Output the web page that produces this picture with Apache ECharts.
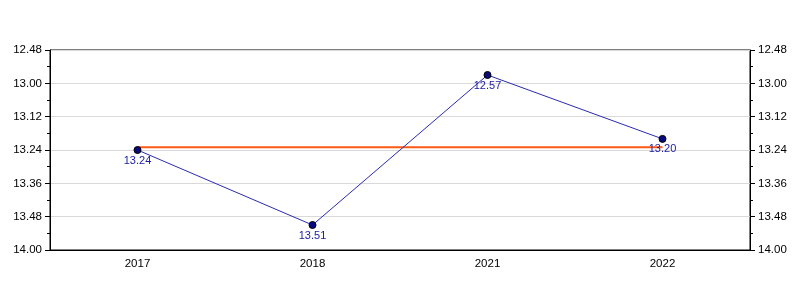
<!DOCTYPE html>
<html><head><meta charset="utf-8">
<script src="https://cdn.jsdelivr.net/npm/echarts@6/dist/echarts.min.js"></script>
<style>html,body{margin:0;padding:0;background:#fff}#c{width:800px;height:300px}</style>
</head><body><div id="c"></div>
<script>
// categories and values (times in m.ss shown; stored as seconds)
const categories = ['2017', '2018', '2021', '2022'];
const timeLabels = ['13.24', '13.51', '12.57', '13.20'];
const averageLabel = '13.23';
const yMinLabel = '12.48', yMaxLabel = '14.00', yStepSeconds = 12;

function toSec(s){ const [m, ss] = s.split('.'); return (+m) * 60 + (+ss); }
function fmt(v){ const m = Math.floor(v / 60), s = Math.round(v - m * 60); return m + '.' + String(s).padStart(2, '0'); }

const values = timeLabels.map(toSec);
const avg = categories.map(() => toSec(averageLabel));

const font = 'Liberation Sans, Arial, sans-serif';
function yAxis(pos){
  return {
    type: 'value', position: pos, inverse: true,
    min: toSec(yMinLabel), max: toSec(yMaxLabel), interval: yStepSeconds,
    axisLine: {show: true, lineStyle: {color: '#000'}},
    axisTick: {show: true, length: 5, lineStyle: {color: '#000'}},
    minorTick: {show: true, splitNumber: 2, length: 3, lineStyle: {color: '#000'}},
    splitLine: {show: pos === 'left', lineStyle: {color: '#d9d9d9'}},
    axisLabel: {formatter: fmt, color: '#000', fontSize: 11.5, fontFamily: font, margin: 8}
  };
}
const chart = echarts.init(document.getElementById('c'));
chart.setOption({
  animation: false,
  grid: {left: 50, right: 50, top: 50, bottom: 50, show: true, borderColor: '#000', borderWidth: 1},
  xAxis: {
    type: 'category', data: categories,
    axisLine: {lineStyle: {color: '#000'}},
    axisTick: {alignWithLabel: true, length: 5, lineStyle: {color: '#000'}},
    axisLabel: {color: '#000', fontSize: 11.5, fontFamily: font, margin: 8}
  },
  yAxis: [yAxis('left'), yAxis('right')],
  series: [
    {
      type: 'line', data: avg, symbol: 'none', z: 1,
      lineStyle: {color: '#ff5a14', width: 2}
    },
    {
      type: 'line', data: values, z: 2,
      symbol: 'circle', symbolSize: 7,
      itemStyle: {color: '#0a0a80', borderColor: '#000', borderWidth: 1},
      lineStyle: {color: '#2a2ab0', width: 1},
      label: {show: true, position: 'bottom', distance: 1, formatter: p => fmt(p.value), color: '#1a1aa0', fontSize: 11, fontFamily: font}
    }
  ]
});
</script></body></html>
